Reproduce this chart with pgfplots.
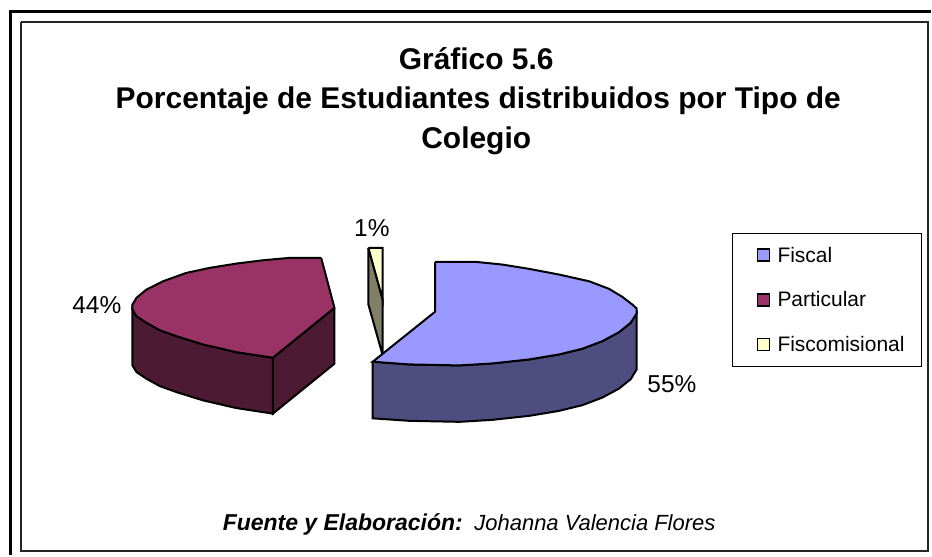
\documentclass[border=0pt]{standalone}
\usepackage{pgfplots}
\pgfplotsset{compat=1.18}
\usepackage{fontspec}
\setmainfont{Liberation Sans}
\definecolor{cblue}{HTML}{9999FF}
\definecolor{cbluedk}{HTML}{4D4D80}
\definecolor{cmar}{HTML}{993366}
\definecolor{cmardk}{HTML}{4D1A33}
\definecolor{ccream}{HTML}{FFFFCC}
\definecolor{ccreamdk}{HTML}{808066}
\begin{document}
\begin{tikzpicture}
\begin{axis}[
  at={(0pt,0pt)}, anchor=south west,
  width=932pt, height=556pt, scale only axis,
  xmin=0, xmax=932, ymin=0, ymax=556, y dir=reverse,
  axis lines=none, clip=false,
  legend cell align=left,
  legend image code/.code={\draw[#1,line width=1.6pt] (0pt,-6pt) rectangle (12pt,6pt); \path (-9pt,0pt) (17pt,0pt);},
  legend style={at={(axis cs:733,233)}, anchor=north west, draw=black, line width=1.5pt,
    font=\fontsize{21}{24}\selectfont, row sep=24pt, inner xsep=15pt, inner ysep=11.5pt,
    /tikz/every even column/.append style={column sep=0pt}},
]
% frame
\addplot[forget plot, black, line width=3pt] coordinates {(10.5,556) (10.5,11.5) (932,11.5)};
\addplot[forget plot, black!85, line width=2pt] coordinates {(21,22) (929,22) (929,552) (21,552) (21,22)};
% Particular: depth
\addplot[forget plot, draw=black, line width=2pt, fill=cmardk] coordinates {(335,308.3) (335,364.3) (273.3,414.3) (273.3,358.3) (335,308.3)};
\addplot[forget plot, draw=black, line width=2pt, fill=cmardk] coordinates {(273.3,358.3) (236.7,352.7) (203.3,345) (176.7,336.7) (160,330.7) (146.7,323.3) (136.7,316.7) (132.7,310) (132.7,366) (136.7,372.7) (146.7,379.3) (160,386.7) (176.7,392.7) (203.3,401) (236.7,408.7) (273.3,414.3) (273.3,358.3)};
% Fiscomisional
\addplot[forget plot, draw=black, line width=2pt, fill=ccreamdk] coordinates {(369,248.3) (383.3,300) (383.3,356) (369,305) (369,248.3)};
% Fiscal: depth
\addplot[forget plot, draw=black, line width=2pt, fill=cbluedk] coordinates {(373.3,362.3) (410,365) (460,366) (493.3,364) (530,360) (560,355) (583.3,349.3) (603.3,341.7) (620,332.7) (631.7,323.3) (637.7,314) (637.7,370) (631.7,379.8) (620,389.2) (603.3,398.2) (583.3,405.8) (560,411.5) (530,416.5) (493.3,420.5) (460,422.5) (410,421.5) (373.3,419) (373.3,362.3)};
% Tops (legend order)
\addplot[draw=black, line width=2pt, fill=cblue] coordinates {(435.7,262.3) (476.7,262.3) (503.3,265) (530,269.3) (560,275) (590,281.7) (610,289.3) (623.3,297.3) (633.3,305) (637.7,309) (637.7,314) (631.7,323.3) (620,332.7) (603.3,341.7) (583.3,349.3) (560,355) (530,360) (493.3,364) (460,366) (410,365) (373.3,362.3) (435.7,312.3) (435.7,262.3)};
\addlegendentry{Fiscal}
\addplot[draw=black, line width=2pt, fill=cmar] coordinates {(321.7,258.3) (335,308.3) (273.3,358.3) (236.7,352.7) (203.3,345) (176.7,336.7) (160,330.7) (146.7,323.3) (136.7,316.7) (132.7,310) (132.7,305) (136.7,298.3) (146.7,290) (163.3,281.7) (186.7,273.3) (210,268.3) (236.7,264) (263.3,260.7) (290,258.3) (321.7,258.3)};
\addlegendentry{Particular}
\addplot[draw=black, line width=2pt, fill=ccream] coordinates {(369,248.3) (383.3,248.3) (383.3,300) (369,248.3)};
\addlegendentry{Fiscomisional}
% text
\node[font=\fontsize{30}{32}\selectfont\bfseries,anchor=base] at (axis cs:477,70) {Gráfico 5.6};
\node[font=\fontsize{30}{32}\selectfont\bfseries,anchor=base] at (axis cs:479,109) {Porcentaje de Estudiantes distribuidos por Tipo de};
\node[font=\fontsize{30}{32}\selectfont\bfseries,anchor=base] at (axis cs:477,149) {Colegio};
\node[font=\fontsize{24.5}{26}\selectfont] at (axis cs:97,306) {44\%};
\node[font=\fontsize{24.5}{26}\selectfont] at (axis cs:372.5,228) {1\%};
\node[font=\fontsize{24.5}{26}\selectfont] at (axis cs:673,385) {55\%};
\node[font=\fontsize{23}{24}\selectfont,anchor=base west,inner sep=0pt] at (axis cs:223,531) {\textbf{\textit{Fuente y Elaboración:}}};
\node[font=\fontsize{22}{24}\selectfont,anchor=base west,inner sep=0pt] at (axis cs:475,531) {\textit{Johanna Valencia Flores}};
\end{axis}
\path[use as bounding box] (0pt,0pt) rectangle (932pt,556pt);
\end{tikzpicture}
\end{document}
